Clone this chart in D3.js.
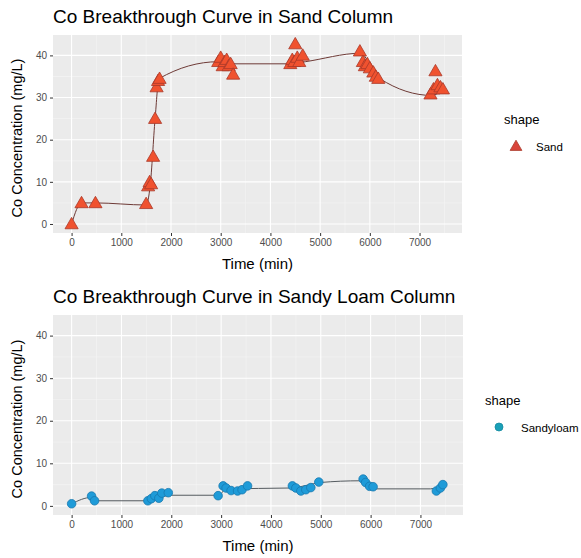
<!DOCTYPE html>
<html><head><meta charset="utf-8">
<script src="https://cdn.jsdelivr.net/npm/d3@7"></script>
<style>body{margin:0;background:#fff;overflow:hidden}svg{display:block}text{font-family:"Liberation Sans",Arial,sans-serif}</style>
</head><body>
<script>
// Sand column observations (time min, Co mg/L)
const sandTime = [0,200,480,1500,1540,1570,1600,1640,1680,1710,1740,1770,2950,3000,3040,3080,3120,3160,3200,3250,4400,4440,4480,4500,4540,4580,4650,5800,5860,5900,5950,6000,6070,6120,6170,7220,7280,7320,7360,7420,7470];
const sandConc = [0,5,5,4.8,9,10,9.5,16,25,32.5,34,34.5,38.5,39.5,37.5,38.5,39,37.5,38,35.5,38,39,38.5,42.7,39.5,38.5,40,41,38.5,37.5,38,37,36,35,34.5,30.8,32,36.3,33,32.5,32];
// Sand fitted line
const sandLineTime = [0,200,480,1500,1580,1680,1760,2950,3200,4400,4700,5800,6200,7250,7480];
const sandLineConc = [0,5,5,4.5,9,25,34.5,38.5,38,38,38.5,40.5,34.5,30.5,32];
// Sandy loam observations
const loamTime = [0,400,460,1530,1600,1670,1750,1810,1940,2940,3040,3100,3200,3330,3420,3530,4430,4500,4600,4700,4800,4960,5850,5900,5980,6050,7320,7400,7450];
const loamConc = [0.5,2.3,1.2,1.2,1.7,2.4,1.8,3.0,3.1,2.4,4.7,4.2,3.6,3.5,3.8,4.7,4.7,4.2,3.5,3.8,4.3,5.6,6.3,5.5,4.6,4.5,3.5,4.2,5.0];
const loamLineTime = [0,400,480,1500,2000,2950,3100,4400,5000,5800,6100,7200,7450];
const loamLineConc = [0.5,2,1.2,1.2,2.5,2.5,4,4.2,5.5,5.9,4.0,4.0,5.0];
const xTicks = [0,1000,2000,3000,4000,5000,6000,7000];
const yTicks = [0,10,20,30,40];

const W = 581, H = 558;
const svg = d3.select("body").append("svg").attr("width", W).attr("height", H);

function panel(opt){
  const g = svg.append("g");
  const x = d3.scaleLinear().domain([-374, 7854]).range([opt.left, opt.right]);
  const y = d3.scaleLinear().domain([-2.14, 44.84]).range([opt.bottom, opt.top]);
  g.append("rect").attr("x", opt.left).attr("y", opt.top)
    .attr("width", opt.right-opt.left).attr("height", opt.bottom-opt.top).attr("fill", "#EBEBEB");
  const xm = [500,1500,2500,3500,4500,5500,6500,7500];
  const ym = [5,15,25,35];
  g.selectAll(".xm").data(xm).join("line").attr("x1", d=>x(d)).attr("x2", d=>x(d))
    .attr("y1", opt.top).attr("y2", opt.bottom).attr("stroke", "#F5F5F5").attr("stroke-width", 0.6);
  g.selectAll(".ym").data(ym).join("line").attr("y1", d=>y(d)).attr("y2", d=>y(d))
    .attr("x1", opt.left).attr("x2", opt.right).attr("stroke", "#F5F5F5").attr("stroke-width", 0.6);
  g.selectAll(".xg").data(xTicks).join("line").attr("x1", d=>x(d)).attr("x2", d=>x(d))
    .attr("y1", opt.top).attr("y2", opt.bottom).attr("stroke", "#fff").attr("stroke-width", 1.1);
  g.selectAll(".yg").data(yTicks).join("line").attr("y1", d=>y(d)).attr("y2", d=>y(d))
    .attr("x1", opt.left).attr("x2", opt.right).attr("stroke", "#fff").attr("stroke-width", 1.1);
  const xa = g.append("g").attr("transform", `translate(0,${opt.bottom})`)
    .call(d3.axisBottom(x).tickValues(xTicks).tickFormat(d3.format("d")).tickSize(3).tickPadding(3));
  const ya = g.append("g").attr("transform", `translate(${opt.left},0)`)
    .call(d3.axisLeft(y).tickValues(yTicks).tickSize(3).tickPadding(3));
  [xa, ya].forEach(a => {
    a.select(".domain").remove();
    a.selectAll("line").attr("stroke", "#333");
    a.selectAll("text").attr("fill", "#4D4D4D").style("font-size", "10px");
  });
  g.append("text").attr("x", opt.left).attr("y", opt.top - 12).text(opt.title)
    .style("font-size", "19px").attr("fill", "#000");
  g.append("text").attr("x", (opt.left+opt.right)/2).attr("y", opt.bottom + 36)
    .attr("text-anchor", "middle").text("Time (min)").style("font-size", "15px");
  g.append("text").attr("transform", `translate(22,${(opt.top+opt.bottom)/2 + 4}) rotate(-90)`)
    .attr("text-anchor", "middle").text("Co Concentration (mg/L)").style("font-size", "14.5px");
  const lineData = opt.lt.map((t,i)=>[t, opt.lc[i]]);
  g.append("path").datum(lineData)
    .attr("d", d3.line().x(d=>x(d[0])).y(d=>y(d[1])).curve(d3.curveMonotoneX))
    .attr("fill", "none").attr("stroke", opt.lineColor).attr("stroke-width", 1);
  const pts = opt.pt.map((t,i)=>[t, opt.pc[i]]);
  if (opt.kind === "tri") {
    const sym = d3.symbol().type(d3.symbolTriangle).size(75);
    g.selectAll(".p").data(pts).join("path").attr("d", sym)
      .attr("transform", d=>`translate(${x(d[0])},${y(d[1])+1})`)
      .attr("fill", "#F0522F").attr("stroke", "#A8392A").attr("stroke-width", 0.8);
  } else {
    g.selectAll(".p").data(pts).join("circle").attr("cx", d=>x(d[0])).attr("cy", d=>y(d[1]))
      .attr("r", 4.3).attr("fill", "#1F9BD8").attr("stroke", "#1879AE").attr("stroke-width", 0.8);
  }
  g.append("text").attr("x", opt.legX).attr("y", opt.legY).text("shape").style("font-size", "13px").attr("fill","#000");
  if (opt.kind === "tri") {
    g.append("path").attr("d", d3.symbol().type(d3.symbolTriangle).size(60))
      .attr("transform", `translate(${opt.legX+12},${opt.legY+23})`)
      .attr("fill", "#D9443A").attr("stroke", "#A8392A").attr("stroke-width", 0.8);
  } else {
    g.append("circle").attr("cx", opt.legX+14).attr("cy", opt.legY+22).attr("r", 4)
      .attr("fill", "#1AA0B8").attr("stroke", "#158AA0").attr("stroke-width", 0.8);
  }
  g.append("text").attr("x", opt.legX + (opt.kind==="tri"?32:36)).attr("y", opt.legY+27)
    .text(opt.legLabel).style("font-size", "11.5px").attr("fill", "#000");
}

panel({left:53, right:462, top:35, bottom:233, title:"Co Breakthrough Curve in Sand Column",
  pt:sandTime, pc:sandConc, lt:sandLineTime, lc:sandLineConc, kind:"tri", lineColor:"#6E3A36",
  legX:504, legY:124, legLabel:"Sand"});
panel({left:53, right:463, top:315, bottom:515, title:"Co Breakthrough Curve in Sandy Loam Column",
  pt:loamTime, pc:loamConc, lt:loamLineTime, lc:loamLineConc, kind:"circ", lineColor:"#555B60",
  legX:485, legY:405, legLabel:"Sandyloam"});
</script>
</body></html>
